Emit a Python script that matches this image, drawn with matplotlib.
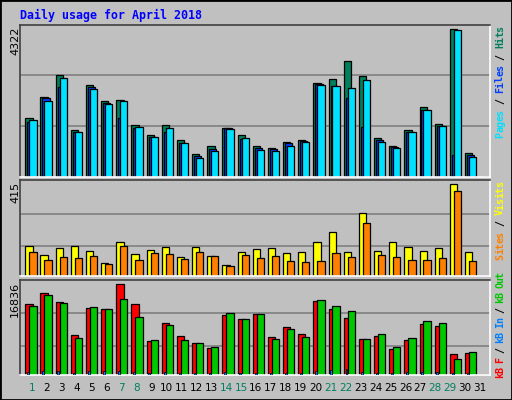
import matplotlib

matplotlib.use("Agg")
import matplotlib.pyplot as plt
from matplotlib.patches import Rectangle

DAYS = list(range(1, 32))
WEEKEND = {1, 7, 8, 14, 15, 21, 22, 28, 29}

HITS = [1740, 2327, 2973, 1389, 2679, 2210, 2249, 1535, 1242, 1535, 1095, 684, 900, 1428, 1242,
        919, 860, 1036, 1095, 2738, 2855, 3383, 2943, 1154, 919, 1389, 2034, 1564, 4322, 714, 0]
FILES = [1604, 2298, 2621, 1330, 2621, 2151, 1740, 1447, 1183, 1330, 1007, 606, 831, 1428, 1124,
         860, 831, 1007, 1066, 2708, 2650, 2298, 1476, 1095, 890, 1330, 1975, 1506, 655, 655, 0]
PAGES = [1682, 2210, 2884, 1330, 2562, 2122, 2210, 1476, 1183, 1447, 1007, 567, 772, 1418, 1154,
         802, 772, 919, 1036, 2679, 2650, 2591, 2826, 1036, 860, 1330, 1975, 1506, 4293, 596, 0]
VISITS = [135, 95, 126, 135, 113, 59, 153, 99, 117, 131, 86, 131, 90, 50, 108,
          122, 126, 104, 108, 153, 199, 108, 284, 113, 153, 131, 113, 126, 415, 108, 0]
SITES = [108, 72, 86, 81, 90, 54, 135, 72, 104, 99, 77, 108, 90, 45, 95,
         81, 90, 68, 63, 68, 104, 86, 239, 95, 86, 72, 72, 81, 384, 68, 0]
KB_F = [13136, 15171, 13506, 7400, 12396, 12211, 16836, 13136, 6290, 9620, 7215, 5920, 4995, 11101, 10361,
        11286, 7030, 8880, 7585, 13691, 12211, 10546, 6660, 7215, 4810, 6475, 9436, 9065, 3885, 4070, 0]
KB_IN = [500, 700, 700, 350, 650, 650, 700, 500, 350, 500, 350, 350, 350, 500, 350,
         350, 350, 350, 350, 650, 900, 1100, 500, 350, 350, 500, 500, 500, 350, 350, 0]
KB_OUT = [12766, 14801, 13321, 6845, 12581, 12211, 14061, 10731, 6475, 9250, 6475, 5920, 5180, 11471, 10361,
          11286, 6660, 8510, 7030, 13876, 12766, 11841, 6660, 7585, 5180, 6845, 9991, 9620, 2960, 4255, 0]

BG = "#C0C0C0"
W, H = 512, 400


def px_axes(fig, top, bottom):
    return fig.add_axes([20 / W, 1 - bottom / H, 470 / W, (bottom - top) / H])


def style(ax, ymax, grid_fracs):
    ax.set_facecolor(BG)
    ax.set_xlim(0, 31)
    ax.set_ylim(0, ymax)
    ax.set_xticks([])
    ax.set_yticks([])
    for frac in grid_fracs:
        ax.axhline(ymax * frac, color="#808080", linewidth=1.2, zorder=0)
    for side in ["top", "left"]:
        ax.spines[side].set_color("#404040")
    for side in ["bottom", "right"]:
        ax.spines[side].set_color("white")
    for s in ax.spines.values():
        s.set_linewidth(1.2)


def bars(ax, series, offsets, width):
    for values, color, off in zip(series[0], series[1], offsets):
        xs = [d - 1 + off for d in DAYS]
        ax.bar(xs, values, width=width, align="edge", color=color,
               edgecolor="black", linewidth=0.9, zorder=2)


def vlabel(fig, x, y0, parts, size=7.2, step=5.6):
    # parts read bottom-to-top, each (text, colour)
    y = y0
    for text, color in parts:
        for ch in text:
            fig.text(x / W, 1 - y / H, ch, rotation=90, color=color, fontsize=size,
                     family="DejaVu Sans Mono", fontweight="bold", ha="center", va="center")
            y -= step


fig = plt.figure(figsize=(W / 100, H / 100), dpi=100)
fig.patch.set_facecolor(BG)
fig.patches.append(Rectangle((0, 0), 1, 1, transform=fig.transFigure, fill=False,
                             edgecolor="black", linewidth=2))

ax1 = px_axes(fig, 25, 177)
style(ax1, 4448, [0.336, 0.67])
bars(ax1, ([HITS, FILES, PAGES], ["#00805C", "#0040FF", "#00E0FF"]), [0.35, 0.48, 0.61], 0.48)

ax2 = px_axes(fig, 180, 276)
style(ax2, 434, [0.31, 0.65])
bars(ax2, ([VISITS, SITES], ["#FFFF00", "#FF8000"]), [0.35, 0.61], 0.48)

ax3 = px_axes(fig, 280, 375)
style(ax3, 17576, [0.305, 0.65])
bars(ax3, ([KB_F, KB_OUT], ["#FF0000", "#00C800"]), [0.35, 0.61], 0.48)
ax3.bar([d - 1 + 0.47 for d in DAYS], KB_IN, width=0.13, align="edge", color="#0080FF",
        edgecolor="black", linewidth=0.5, zorder=3)

fig.text(20 / W, 1 - 15 / H, "Daily usage for April 2018", color="#0000FF", fontsize=8.4,
         family="DejaVu Sans Mono", fontweight="bold", ha="left", va="center")

for label, top in [("4322", 27), ("415", 182), ("16836", 282)]:
    fig.text(15 / W, 1 - top / H, label, rotation=90, fontsize=8, ha="center", va="top")

for d in DAYS:
    fig.text((20 + (d - 1 + 0.78) * 14.95) / W, 1 - 388 / H, str(d), fontsize=7.5,
             color="#008060" if d in WEEKEND else "black", ha="center", va="center")

vlabel(fig, 500, 135, [("Pages", "#00E0FF"), (" / ", "black"), ("Files", "#0040FF"),
                       (" / ", "black"), ("Hits", "#00805C")])
vlabel(fig, 500, 257, [("Sites", "#FF8000"), (" / ", "black"), ("Visits", "#FFFF00")])
vlabel(fig, 500, 375, [("kB F", "#FF0000"), (" / ", "black"), ("kB In", "#0080FF"),
                       (" / ", "black"), ("kB Out", "#00C800")], step=5.0)

fig.savefig("out.png", dpi=100, facecolor=BG)
